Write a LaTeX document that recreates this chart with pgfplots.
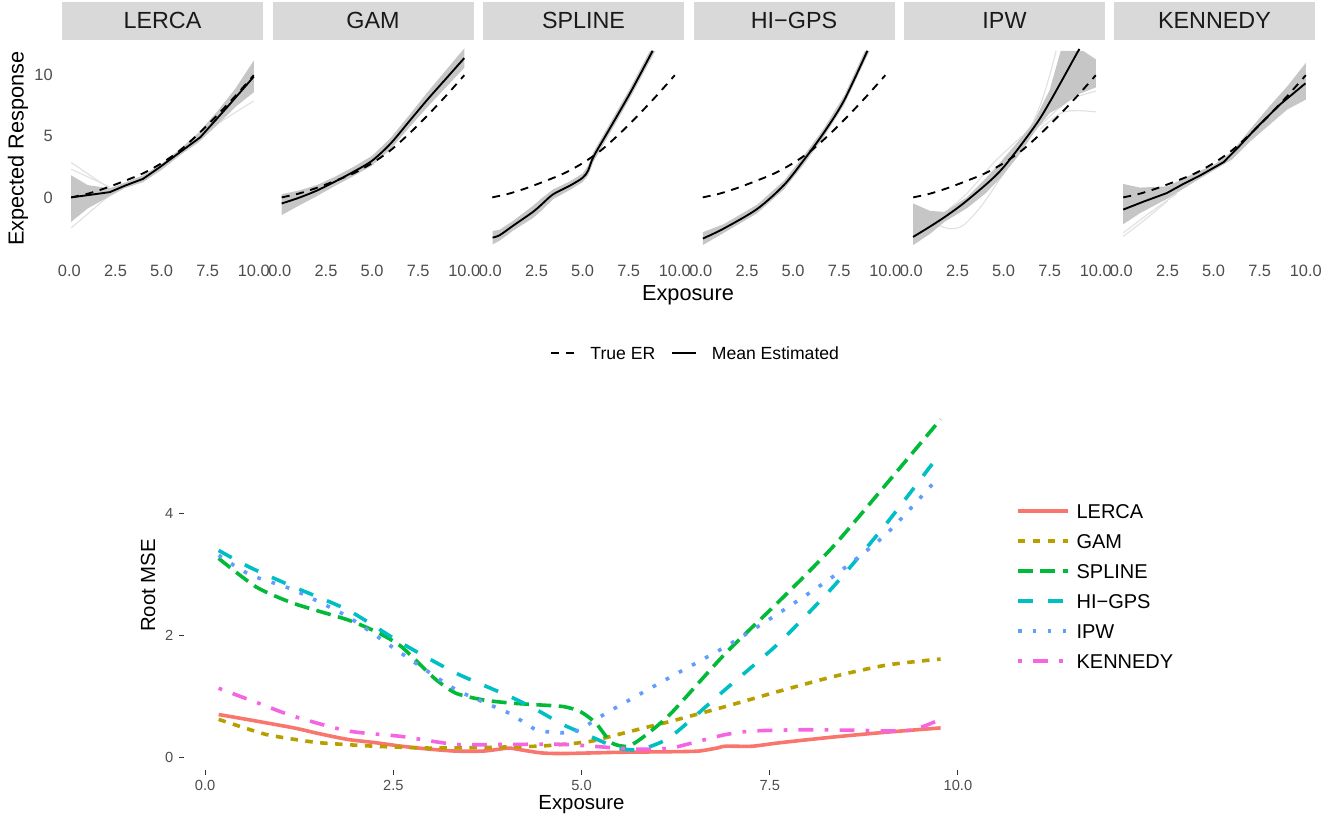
\documentclass[border=0pt]{standalone}
\usepackage{fontspec}
\setmainfont{Liberation Sans}
\usepackage{pgfplots}
\pgfplotsset{compat=1.18}
\definecolor{stripfill}{HTML}{D9D9D9}
\definecolor{striptext}{HTML}{1A1A1A}
\definecolor{tickgray}{HTML}{4D4D4D}
\definecolor{tickdark}{HTML}{333333}
\definecolor{band}{RGB}{198,198,198}
\definecolor{faint}{RGB}{226,226,226}
\definecolor{cLERCA}{HTML}{F8766D}
\definecolor{cGAM}{HTML}{B79F00}
\definecolor{cSPLINE}{HTML}{00BA38}
\definecolor{cHIGPS}{HTML}{00BFC4}
\definecolor{cIPW}{HTML}{619CFF}
\definecolor{cKENNEDY}{HTML}{F564E3}
\pgfplotsset{
 toppanel/.style={
  scale only axis, width=150.75pt, height=161.25pt, anchor=north west,
  xmin=-0.4, xmax=10.5, ymin=-4.8, ymax=12.8,
  axis lines=left, axis line style={draw=none}, major tick length=0pt, tick style={draw=none},
  xtick={0,2.5,5,7.5,10}, xticklabels={0.0,2.5,5.0,7.5,10.0},
  ytick={0,5,10}, yticklabels={0,5,10},
  ticklabel style={font=\fontsize{12.3}{14}\selectfont, text=tickgray, inner sep=0pt},
  xticklabel style={yshift=-6.75pt},
  yticklabel style={xshift=-6.75pt},
  every axis title/.style={at={(0.5,1)}, anchor=south, yshift=0.75pt, fill=stripfill, minimum width=150.75pt, minimum height=28.5pt, inner sep=0pt, font=\fontsize{17.5}{20}\selectfont, text=striptext},
  label style={font=\fontsize{16.3}{19}\selectfont},
 },
 trueer/.style={black, line width=1.4pt, dash pattern=on 6pt off 5pt},
 meanest/.style={black, line width=1.4pt},
 bandst/.style={fill=band, draw=none, forget plot},
 faintst/.style={faint, line width=0.9pt, forget plot},
}
\pgfplotstableread{
x y
0.1 0
1 0.3
2 0.78
3 1.35
4 1.97
5 2.8
6 3.85
7 5.2
8 6.7
9 8.3
10 10.0
}\trueER
\begin{document}
\begin{tikzpicture}
\useasboundingbox (0,0) rectangle (1005.75pt,-617.25pt);

% ---------- LERCA ----------
\begin{axis}[toppanel, at={(46.5pt,-30.75pt)}, title={LERCA},
  ylabel={Expected Response}, ylabel style={at={(axis description cs:-0.2189,0.5)}, anchor=center}]
\addplot[faintst] coordinates {(0.1,2.85) (2.2,0.7)};
\addplot[faintst] coordinates {(0.1,-2.5) (2.2,0.2)};
\addplot[faintst] coordinates {(0.1,2.3) (2.2,0.85)};
\addplot[faintst] coordinates {(6.5,4.4) (8,6.0) (10,7.9)};
\addplot[bandst] coordinates {(0.1,1.8) (1,1.0) (2.2,0.75) (3,1.2) (4,1.8) (5,2.75) (6,3.95) (7,5.3) (8,7.0) (9,8.9) (10,11.2)
  (10,8.6) (9,7.4) (8,5.9) (7,4.5) (6,3.45) (5,2.25) (4,1.25) (3,0.75) (2.2,0.1) (1,-0.9) (0.1,-2.0)} -- cycle;
\addplot[trueer, smooth] table {\trueER};
\addplot[meanest] coordinates {(0.1,0) (1,0.18) (2.2,0.43) (3,0.95) (4,1.52) (4.9,2.47) (6,3.7) (7.1,4.92) (8.55,7.37) (10,9.88)};
\end{axis}

% ---------- GAM ----------
\begin{axis}[toppanel, at={(204.375pt,-30.75pt)}, title={GAM}, ytick=\empty]
\addplot[bandst] coordinates {(0.1,0.25) (1,0.55) (2,1.0) (3,1.7) (4,2.5) (5,3.4) (6,4.85) (7,6.7) (8,8.6) (9,10.4) (10,12.2)
  (10,10.6) (9,9.0) (8,7.4) (7,5.7) (6,3.95) (5,2.6) (4,1.75) (3,0.95) (2,0.1) (1,-0.7) (0.1,-1.45)} -- cycle;
\addplot[trueer, smooth] table {\trueER};
\addplot[meanest, smooth] coordinates {(0.1,-0.5) (1,-0.05) (2,0.55) (3,1.3) (4,2.1) (5,3.0) (6,4.4) (7,6.2) (8,8.0) (9,9.7) (10,11.4)};
\end{axis}

% ---------- SPLINE ----------
\begin{axis}[toppanel, at={(362.25pt,-30.75pt)}, title={SPLINE}, ytick=\empty,
  xlabel={Exposure}, xlabel style={at={(axis description cs:1.0199,-0.1814)}, anchor=center},
  legend columns=2,
  legend image code/.code={\draw[#1] (0pt,0pt) -- (18pt,0pt);},
  legend style={at={(axis description cs:1.052,-0.451)}, anchor=center, draw=none, fill=none, inner sep=0pt, outer sep=0pt,
    font=\fontsize{13.2}{15}\selectfont, nodes={inner sep=0pt, text height=9.45pt, text depth=0pt},
    /tikz/every odd column/.append style={column sep=11pt},
    /tikz/every even column/.append style={column sep=12pt}}]
\addplot[bandst] coordinates {(0.12,-2.75) (0.5,-2.65) (1.25,-1.9) (2.3,-0.7) (2.8,-0.05) (3.4,0.65) (4.3,1.3) (5.0,1.95) (5.3,2.6) (5.6,3.75) (6.5,6.1) (7.6,9.0) (8.65,12.0)
  (8.95,12.0) (7.6,8.2) (6.5,5.3) (5.6,2.95) (5.3,1.8) (5.0,1.25) (4.3,0.6) (3.4,-0.15) (2.8,-1.05) (2.3,-1.7) (1.25,-2.7) (0.5,-3.55) (0.12,-3.85)} -- cycle;
\addplot[trueer, smooth] table {\trueER};
\addlegendentry{True ER}
\addplot[meanest, smooth] coordinates {(0.12,-3.29) (0.5,-3.1) (1.25,-2.3) (2.3,-1.2) (2.8,-0.55) (3.4,0.25) (4.3,0.95) (5.0,1.6) (5.3,2.2) (5.6,3.35) (6.5,5.7) (7.6,8.6) (8.8,12.0)};
\addlegendentry{Mean Estimated}
\end{axis}

% ---------- HI-GPS ----------
\begin{axis}[toppanel, at={(520.125pt,-30.75pt)}, title={HI−GPS}, ytick=\empty]
\addplot[bandst] coordinates {(0.11,-2.85) (1.23,-2.2) (3.05,-0.6) (4.5,1.35) (5.58,3.4) (6.67,5.65) (7.76,8.3) (8.9,12.0)
  (9.15,12.0) (7.76,7.55) (6.67,4.95) (5.58,2.7) (4.5,0.65) (3.05,-1.3) (1.23,-2.92) (0.11,-3.9)} -- cycle;
\addplot[trueer, smooth] table {\trueER};
\addplot[meanest, smooth] coordinates {(0.11,-3.37) (1.23,-2.56) (3.05,-0.95) (4.5,1.0) (5.58,3.05) (6.67,5.3) (7.76,7.92) (9.03,12.0)};
\end{axis}

% ---------- IPW ----------
\begin{axis}[toppanel, at={(678pt,-30.75pt)}, title={IPW}, ytick=\empty]
\addplot[faintst, smooth] coordinates {(0.1,-0.6) (1,-1.9) (2,-2.55) (2.8,-2.3) (3.8,-0.7) (4.8,1.5) (5.8,3.6)};
\addplot[faintst, smooth] coordinates {(1.5,-1.6) (3,0.3) (4.5,2.9) (6,5.0)};
\addplot[faintst, smooth] coordinates {(7,5.6) (8.1,6.9) (9,7.1) (10,7.0)};
\addplot[faintst, smooth] coordinates {(7,5.9) (8.5,7.9) (10,8.7)};
\addplot[faintst, smooth] coordinates {(6.2,4.8) (7,7.6) (7.5,10) (7.85,12.0)};
\addplot[bandst] coordinates {(0.1,-0.5) (1,-1.1) (1.8,-1.2) (3,0.0) (4,1.5) (4.84,2.9) (5.8,4.6) (6.65,6.2) (7.5,8.8) (8.1,12.0) (9.3,12.0) (10,11.3)
  (10,9.0) (9,8.4) (8.1,7.4) (7.5,6.9) (6.65,5.3) (5.8,3.4) (4.84,1.6) (4,0.3) (3,-0.9) (1.8,-2.0) (1,-3.0) (0.1,-3.9)} -- cycle;
\addplot[trueer, smooth] table {\trueER};
\addplot[meanest, smooth] coordinates {(0.09,-3.24) (1,-2.4) (1.94,-1.47) (3.03,-0.24) (4.84,2.2) (6.65,5.74) (7.55,7.92) (9.0,11.86) (9.06,12.0)};
\end{axis}

% ---------- KENNEDY ----------
\begin{axis}[toppanel, at={(835.5pt,-30.75pt)}, title={KENNEDY}, ytick=\empty]
\addplot[faintst] coordinates {(0.1,-3.2) (1.3,-1.8) (2.5,-0.3)};
\addplot[faintst] coordinates {(0.1,-2.9) (1.5,-1.3) (3,0.3)};
\addplot[bandst] coordinates {(0.1,1.1) (1,0.8) (2.5,0.9) (4,2.0) (5,2.65) (6,3.75) (7,5.6) (8,7.4) (9,9.1) (10,11.0)
  (10,8.0) (9,7.2) (8,5.9) (7,4.6) (6,3.1) (5,2.2) (4,1.3) (2.5,-0.1) (1,-1.3) (0.1,-2.2)} -- cycle;
\addplot[trueer, smooth] table {\trueER};
\addplot[meanest] coordinates {(0.1,-1.0) (1.2,-0.35) (2.46,0.35) (3.3,1.05) (4.28,1.8) (5.54,2.88) (6.4,4.2) (7.35,5.74) (8.6,7.6) (9.98,9.33)};
\end{axis}

% ---------- Root MSE ----------
\begin{axis}[
  scale only axis, width=596.25pt, height=276.75pt, at={(138pt,-300.75pt)}, anchor=north west,
  xmin=-0.28, xmax=10.28, ymin=-0.2, ymax=5.85,
  axis lines=left, axis line style={draw=none},
  tick align=outside, major tick length=3.5pt, tick style={tickdark, line width=0.75pt},
  xtick={0,2.5,5,7.5,10}, xticklabels={0.0,2.5,5.0,7.5,10.0},
  ytick={0,2,4}, yticklabels={0,2,4},
  ticklabel style={font=\fontsize{11}{13}\selectfont, text=tickgray, inner sep=0pt},
  xticklabel style={yshift=-4pt}, yticklabel style={xshift=-4.4pt},
  xlabel={Exposure}, ylabel={Root MSE},
  label style={font=\fontsize{15.3}{18}\selectfont},
  xlabel style={at={(axis description cs:0.5,-0.0949)}, anchor=center},
  ylabel style={at={(axis description cs:-0.0453,0.5)}, anchor=center},
  legend cell align=left,
  legend image code/.code={\draw[#1] (0pt,0pt) -- (37.5pt,0pt);},
  legend style={at={(axis description cs:1.0465,0.7211)}, anchor=north west, draw=none, fill=none, inner sep=0pt, outer sep=0pt,
    font=\fontsize{15}{18}\selectfont, nodes={inner sep=0pt, text height=10.7pt, text depth=0pt}, row sep=11.8pt,
    /tikz/every odd column/.append style={column sep=5.25pt}},
  every axis plot/.append style={line width=2.7pt},
]
\addplot[cLERCA, smooth, tension=0.4] coordinates {(0.18,0.71) (0.6,0.62) (1.18,0.49) (1.5,0.40) (1.9,0.30) (2.25,0.25) (2.61,0.19) (3.0,0.14) (3.33,0.11) (3.69,0.11) (3.9,0.14) (4.04,0.16) (4.2,0.13) (4.47,0.08) (4.76,0.07) (5.48,0.09) (6.19,0.10) (6.55,0.11) (6.8,0.16) (6.91,0.19) (7.27,0.19) (7.62,0.245) (8.34,0.34) (9.05,0.42) (9.77,0.49)};
\addlegendentry{LERCA}
\addplot[cGAM, smooth, tension=0.4, dash pattern=on 5.6pt off 5.6pt] coordinates {(0.18,0.63) (0.5,0.5) (0.82,0.38) (1.2,0.3) (1.54,0.245) (2.25,0.19) (2.97,0.16) (3.69,0.17) (4.4,0.19) (4.76,0.22) (5.12,0.27) (5.48,0.38) (5.83,0.49) (6.19,0.6) (6.91,0.84) (7.62,1.09) (8.34,1.33) (9.05,1.52) (9.77,1.62)};
\addlegendentry{GAM}
\addplot[cSPLINE, smooth, tension=0.4, dash pattern=on 11.2pt off 5.6pt] coordinates {(0.18,3.27) (0.68,2.8) (1.18,2.53) (1.9,2.26) (2.3,2.05) (2.61,1.82) (3.04,1.31) (3.33,1.06) (3.69,0.95) (4.04,0.9) (4.4,0.87) (4.76,0.84) (4.98,0.76) (5.19,0.57) (5.4,0.245) (5.62,0.19) (5.83,0.35) (6.19,0.73) (6.91,1.71) (7.62,2.56) (8.34,3.46) (9.05,4.49) (9.77,5.55)};
\addlegendentry{SPLINE}
\addplot[cHIGPS, smooth, tension=0.4, dash pattern=on 11.2pt off 11.2pt] coordinates {(0.18,3.4) (0.6,3.12) (1.18,2.8) (1.9,2.42) (2.61,1.88) (3.33,1.39) (4.04,1.01) (4.4,0.79) (4.76,0.54) (5.12,0.35) (5.48,0.16) (5.7,0.13) (5.83,0.15) (6.19,0.35) (6.91,1.12) (7.62,1.88) (8.34,2.8) (9.05,3.84) (9.77,5.0)};
\addlegendentry{HI−GPS}
\addplot[cIPW, smooth, tension=0.4, dash pattern=on 2.8pt off 8.4pt] coordinates {(0.18,3.32) (0.6,3.0) (1.18,2.75) (1.9,2.31) (2.61,1.71) (3.33,1.12) (4.04,0.73) (4.4,0.46) (4.76,0.41) (4.98,0.46) (5.19,0.63) (5.48,0.84) (6.19,1.33) (6.91,1.82) (7.62,2.37) (8.34,2.97) (9.05,3.67) (9.7,4.54)};
\addlegendentry{IPW}
\addplot[cKENNEDY, smooth, tension=0.4, dash pattern=on 2.8pt off 8.4pt on 11.2pt off 8.4pt] coordinates {(0.18,1.14) (0.7,0.9) (1.18,0.68) (1.9,0.44) (2.61,0.35) (3.33,0.22) (4.04,0.22) (4.76,0.22) (5.48,0.16) (5.83,0.14) (6.19,0.16) (6.55,0.27) (6.91,0.38) (7.27,0.44) (7.98,0.46) (8.7,0.45) (9.05,0.44) (9.41,0.46) (9.77,0.63)};
\addlegendentry{KENNEDY}
\end{axis}
\end{tikzpicture}
\end{document}
